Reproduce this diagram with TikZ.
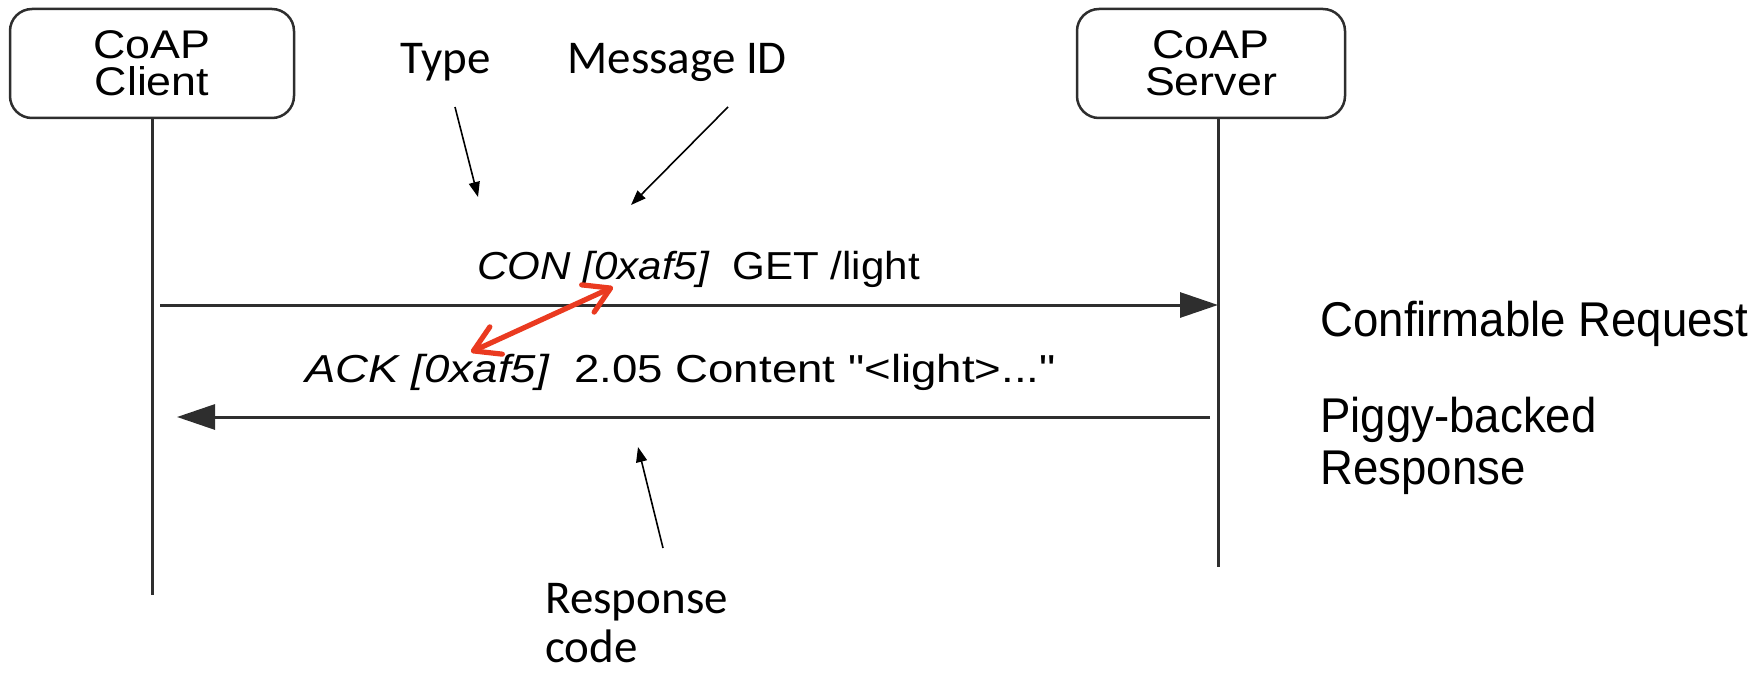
\documentclass[tikz,border=0pt]{standalone}
\usepackage{fontspec}
\setmainfont{Liberation Sans}
% wide sans for the sequence chart, narrow sans for the side notes
\newfontfamily\boxfont[FakeStretch=1.12]{Liberation Sans}
\newfontfamily\reqfont[FakeStretch=1.08]{Liberation Sans}
\newfontfamily\respfont[FakeStretch=1.17]{Liberation Sans}
\newfontfamily\sidefont[FakeStretch=0.934]{Liberation Sans}
\newfontfamily\notefont{Carlito}
\usetikzlibrary{arrows.meta}
\definecolor{ink}{HTML}{2E2E2E}
\definecolor{marker}{HTML}{EA3A20}
% two lines with a fixed baseline distance; the box baseline is the first line
\newcommand\linepair[3]{\vtop{\baselineskip=#1\lineskiplimit=-\maxdimen\lineskip=0pt\hbox{#2}\hbox{#3}}}
\tikzset{idbarb/.tip={Straight Barb[length=12.5pt,width=15pt,line join=round,line cap=round]}}

\begin{document}
\begin{tikzpicture}[x=0.5pt,y=-0.5pt,
  party/.style={draw=ink, line width=1.25pt, rounded corners=11pt,
    minimum height=54.5pt, inner sep=0pt, align=center,
    font=\boxfont\fontsize{20}{18.5}\selectfont},
  lifeline/.style={draw=ink, line width=1.5pt},
  msg/.style={draw=ink, line width=1.5pt, -{Triangle[length=19pt,width=12.5pt]}},
  msgtext/.style={anchor=base west, inner sep=0pt},
  note/.style={anchor=base west, inner sep=0pt,
    font=\notefont\fontsize{23.5}{23.5}\selectfont},
  pointer/.style={draw=black, line width=0.8pt, -{Triangle[length=7.5pt,width=5.5pt]}},
  side/.style={anchor=base west, inner sep=0pt,
    font=\sidefont\fontsize{24.4}{28}\selectfont},
  idlink/.style={draw=marker, line width=2.6pt, line cap=round, idbarb-idbarb}
]
\useasboundingbox (0,0) rectangle (1760,674);

% participants
\node[party, minimum width=142pt] (client) at (152,63.5) {CoAP\\Client};
\node[party, minimum width=134pt] (server) at (1211,63.5) {CoAP\\Server};

% lifelines
\coordinate (clientstart) at (152,118);
\coordinate (clientend) at (152,595);
\coordinate (serverstart) at (1218,118);
\coordinate (serverend) at (1218,567);
\draw[lifeline] (clientstart) -- (clientend);
\draw[lifeline] (serverstart) -- (serverend);

% messages
\coordinate (reqstart) at (160,305);
\coordinate (reqend) at (1218,305);
\coordinate (respstart) at (1210,417);
\coordinate (respend) at (177,417);
\draw[msg] (reqstart) -- (reqend);
\draw[msg] (respstart) -- (respend);

\node[msgtext, font=\reqfont\fontsize{19.5}{20}\selectfont] (reqlabel) at (477,279)
  {\itshape CON [0xaf5]\upshape\ \ GET /light};
\node[msgtext, font=\respfont\fontsize{19.5}{20}\selectfont] (resplabel) at (305,382)
  {\itshape ACK [0xaf5]\upshape\ \ 2.05 Content "<light>..."};

% annotations
\node[note] (typelabel) at (400,74) {Type};
\node[note] (midlabel) at (567,74) {Message ID};
\node[note] (codelabel) at (545,613) {\linepair{24.5pt}{Response}{code}};

\coordinate (typetail) at (455,107);
\coordinate (typetip) at (478,197);
\coordinate (midtail) at (728,107);
\coordinate (midtip) at (631,205);
\coordinate (codetail) at (663,548);
\coordinate (codetip) at (638,447);
\draw[pointer] (typetail) -- (typetip);
\draw[pointer] (midtail) -- (midtip);
\draw[pointer] (codetail) -- (codetip);

% matching message IDs
\coordinate (idack) at (471,352);
\coordinate (idcon) at (613,287);
\draw[idlink] (idack) -- (idcon);

% exchange names
\node[side] (reqname) at (1320,336) {Confirmable Request};
\node[side] (respname) at (1320,432) {\linepair{26pt}{Piggy-backed}{Response}};
\end{tikzpicture}
\end{document}
